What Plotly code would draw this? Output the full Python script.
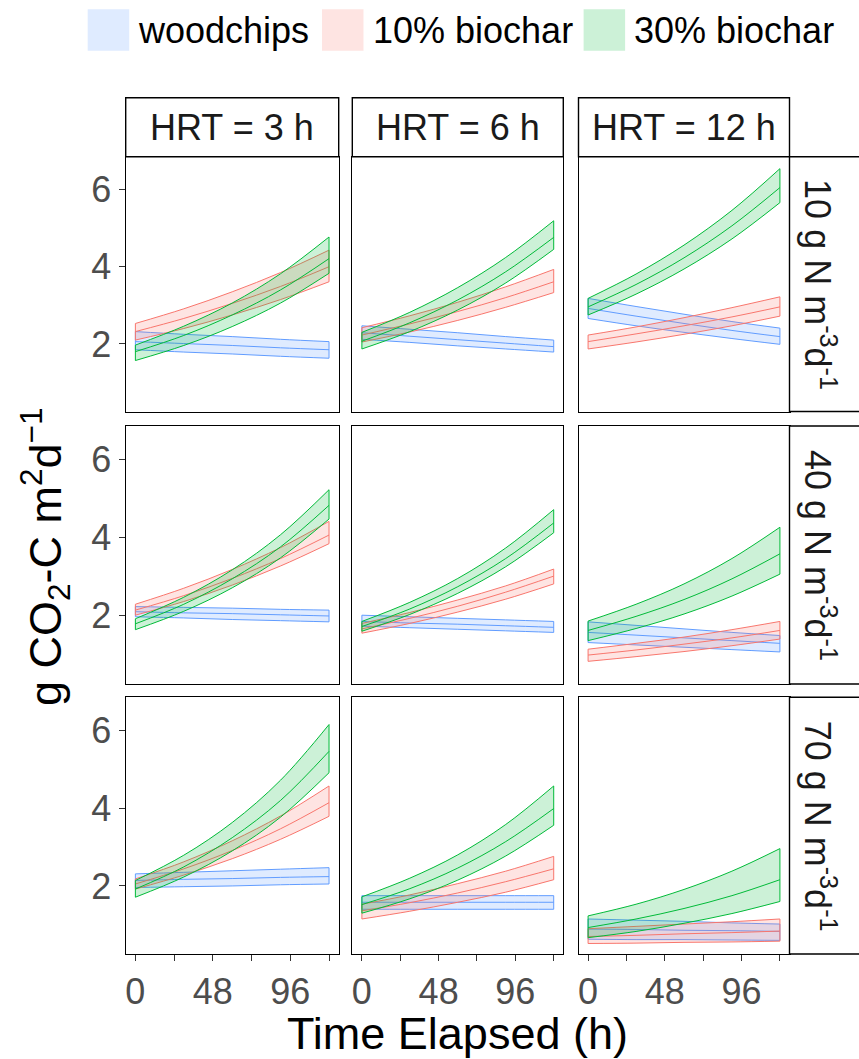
import plotly.graph_objects as go

W, H = 859, 1059

# ---------------- data ----------------
time_h = [0, 30, 60, 90, 120]
treatments = ["woodchips", "10% biochar", "30% biochar"]
hrt_labels = ["HRT = 3 h", "HRT = 6 h", "HRT = 12 h"]
load_labels = ["10 g N m<sup>-3</sup>d<sup>-1</sup>",
               "40 g N m<sup>-3</sup>d<sup>-1</sup>",
               "70 g N m<sup>-3</sup>d<sup>-1</sup>"]
x_tickvals = [0, 48, 96]
x_ticktext = ["0", "48", "96"]
x_minor_tickvals = [24, 72, 120]
y_tickvals = [2, 4, 6]
y_ticktext = ["2", "4", "6"]

# panel order: (10 g: HRT3, HRT6, HRT12), (40 g: ...), (70 g: ...)
woodchips_mean = [
    [2.06, 2.01, 1.96, 1.90, 1.85], [2.29, 2.20, 2.11, 2.02, 1.93], [2.92, 2.72, 2.53, 2.35, 2.19],
    [2.10, 2.07, 2.05, 2.02, 1.99], [1.85, 1.81, 1.78, 1.74, 1.70], [1.57, 1.50, 1.43, 1.36, 1.29],
    [2.14, 2.17, 2.19, 2.22, 2.24], [1.58, 1.58, 1.58, 1.58, 1.58], [0.89, 0.88, 0.86, 0.85, 0.83]]
woodchips_upper = [
    [2.32, 2.25, 2.19, 2.12, 2.06], [2.47, 2.38, 2.29, 2.19, 2.10], [3.18, 2.97, 2.77, 2.58, 2.41],
    [2.23, 2.21, 2.19, 2.16, 2.14], [2.01, 1.97, 1.93, 1.89, 1.85], [1.84, 1.75, 1.66, 1.57, 1.49],
    [2.31, 2.35, 2.39, 2.43, 2.47], [1.75, 1.75, 1.75, 1.75, 1.75], [1.15, 1.12, 1.09, 1.05, 1.02]]
woodchips_lower = [
    [1.85, 1.79, 1.74, 1.68, 1.63], [2.12, 2.04, 1.95, 1.87, 1.79], [2.66, 2.47, 2.30, 2.14, 1.99],
    [1.97, 1.94, 1.90, 1.87, 1.84], [1.73, 1.69, 1.65, 1.61, 1.57], [1.31, 1.25, 1.19, 1.13, 1.07],
    [1.96, 1.98, 2.00, 2.03, 2.05], [1.40, 1.40, 1.40, 1.40, 1.40], [0.63, 0.62, 0.62, 0.61, 0.60]]

biochar10_mean = [
    [2.32, 2.66, 3.05, 3.49, 4.00], [2.23, 2.52, 2.84, 3.20, 3.61], [2.06, 2.26, 2.47, 2.70, 2.96],
    [2.14, 2.51, 2.95, 3.46, 4.06], [1.66, 1.93, 2.24, 2.60, 3.01], [0.99, 1.12, 1.27, 1.43, 1.62],
    [2.05, 2.44, 2.91, 3.47, 4.14], [1.36, 1.57, 1.82, 2.11, 2.44], [0.70, 0.73, 0.77, 0.80, 0.84]]
biochar10_upper = [
    [2.53, 2.91, 3.35, 3.85, 4.43], [2.42, 2.73, 3.08, 3.48, 3.93], [2.23, 2.44, 2.68, 2.94, 3.22],
    [2.29, 2.70, 3.18, 3.74, 4.41], [1.80, 2.08, 2.40, 2.76, 3.19], [1.14, 1.29, 1.45, 1.64, 1.85],
    [2.18, 2.62, 3.16, 3.80, 4.57], [1.53, 1.77, 2.06, 2.38, 2.76], [0.90, 0.96, 1.02, 1.08, 1.15]]
biochar10_lower = [
    [2.10, 2.40, 2.75, 3.15, 3.61], [2.05, 2.31, 2.61, 2.95, 3.33], [1.87, 2.05, 2.25, 2.47, 2.72],
    [2.01, 2.36, 2.78, 3.27, 3.84], [1.55, 1.80, 2.09, 2.42, 2.81], [0.83, 0.95, 1.08, 1.23, 1.40],
    [1.92, 2.28, 2.70, 3.20, 3.79], [1.15, 1.35, 1.58, 1.84, 2.16], [0.52, 0.53, 0.55, 0.56, 0.58]]

biochar30_mean = [
    [1.80, 2.22, 2.75, 3.40, 4.21], [2.07, 2.55, 3.14, 3.87, 4.76], [2.96, 3.54, 4.23, 5.06, 6.05],
    [1.79, 2.29, 2.94, 3.76, 4.82], [1.72, 2.17, 2.74, 3.46, 4.37], [1.62, 1.98, 2.41, 2.94, 3.58],
    [1.92, 2.49, 3.24, 4.20, 5.46], [1.52, 1.93, 2.46, 3.14, 3.99], [0.93, 1.15, 1.42, 1.75, 2.16]]
biochar30_upper = [
    [1.97, 2.46, 3.06, 3.82, 4.77], [2.30, 2.82, 3.46, 4.24, 5.19], [3.18, 3.81, 4.56, 5.46, 6.54],
    [1.92, 2.47, 3.17, 4.07, 5.22], [1.85, 2.34, 2.95, 3.73, 4.71], [1.86, 2.29, 2.81, 3.46, 4.26],
    [2.14, 2.79, 3.63, 4.72, 6.15], [1.72, 2.20, 2.80, 3.58, 4.57], [1.23, 1.53, 1.91, 2.38, 2.96]]
biochar30_lower = [
    [1.57, 1.96, 2.45, 3.06, 3.83], [1.87, 2.32, 2.88, 3.58, 4.45], [2.75, 3.29, 3.94, 4.72, 5.66],
    [1.64, 2.11, 2.71, 3.48, 4.47], [1.60, 2.03, 2.57, 3.25, 4.12], [1.36, 1.67, 2.04, 2.50, 3.06],
    [1.71, 2.23, 2.90, 3.77, 4.91], [1.30, 1.67, 2.15, 2.77, 3.56], [0.67, 0.83, 1.04, 1.29, 1.60]]

means = [woodchips_mean, biochar10_mean, biochar30_mean]
uppers = [woodchips_upper, biochar10_upper, biochar30_upper]
lowers = [woodchips_lower, biochar10_lower, biochar30_lower]

# ---------------- styling ----------------
colors = ["#619CFF", "#F8766D", "#00BA38"]
fills = ["rgba(97,156,255,0.2)", "rgba(248,118,109,0.2)", "rgba(0,186,56,0.2)"]
FONT = "Liberation Sans, Arial, sans-serif"

col_left = [125.7, 352.3, 578.5]
col_right = [338.7, 563.3, 789.5]
row_top = [156.7, 426.0, 697.3]
row_bot = [411.5, 684.0, 954.0]
strip_top = 97.7
strip_right_end = 880

def px(x):
    return x / W

def py(y):
    return 1 - y / H

fig = go.Figure()
layout = dict(
    width=W, height=H, autosize=False,
    margin=dict(l=0, r=0, t=0, b=0),
    paper_bgcolor="white", plot_bgcolor="white",
    showlegend=False,
    font=dict(family=FONT),
)

for r in range(3):
    for c in range(3):
        k = r * 3 + c
        n = k + 1
        xa = "x" if n == 1 else f"x{n}"
        ya = "y" if n == 1 else f"y{n}"
        for t in range(3):
            lo = lowers[t][k]
            up = uppers[t][k]
            mn = means[t][k]
            fig.add_trace(go.Scatter(x=time_h, y=lo, mode="lines", xaxis=xa, yaxis=ya,
                                     line=dict(color=colors[t], width=1, shape="spline"),
                                     hoverinfo="skip"))
            fig.add_trace(go.Scatter(x=time_h, y=up, mode="lines", xaxis=xa, yaxis=ya,
                                     fill="tonexty", fillcolor=fills[t],
                                     line=dict(color=colors[t], width=1, shape="spline"),
                                     hoverinfo="skip"))
            fig.add_trace(go.Scatter(x=[time_h[0], time_h[0], None, time_h[-1], time_h[-1]],
                                     y=[lo[0], up[0], None, lo[-1], up[-1]],
                                     mode="lines", xaxis=xa, yaxis=ya,
                                     line=dict(color=colors[t], width=1),
                                     hoverinfo="skip"))
            fig.add_trace(go.Scatter(x=time_h, y=mn, mode="lines", xaxis=xa, yaxis=ya,
                                     line=dict(color=colors[t], width=1, shape="spline"),
                                     hoverinfo="skip"))
        xkey = "xaxis" if n == 1 else f"xaxis{n}"
        ykey = "yaxis" if n == 1 else f"yaxis{n}"
        bottom = (r == 2)
        left = (c == 0)
        xaxis = dict(
            domain=[px(col_left[c]), px(col_right[c])],
            anchor=ya, range=[-6, 126],
            tickmode="array", tickvals=x_tickvals, ticktext=x_ticktext,
            showticklabels=bottom, ticks="outside" if bottom else "",
            ticklen=6, tickwidth=1.3, tickcolor="#333333",
            tickfont=dict(size=36, color="#4D4D4D", family=FONT),
            showgrid=False, zeroline=False,
            showline=True, mirror=True, linecolor="black", linewidth=1.4,
        )
        if bottom:
            xaxis["minor"] = dict(tickmode="array", tickvals=x_minor_tickvals,
                                  ticks="outside", ticklen=6, tickwidth=1.3,
                                  tickcolor="#333333", showgrid=False)
        layout[xkey] = xaxis
        layout[ykey] = dict(
            domain=[py(row_bot[r]), py(row_top[r])],
            anchor=xa, range=[0.25, 6.85],
            tickmode="array", tickvals=y_tickvals, ticktext=y_ticktext,
            showticklabels=left, ticks="outside" if left else "",
            ticklen=6, tickwidth=1.3, tickcolor="#333333",
            tickfont=dict(size=36, color="#4D4D4D", family=FONT),
            showgrid=False, zeroline=False,
            showline=True, mirror=True, linecolor="black", linewidth=1.4,
        )

shapes = []
annotations = []

# top strips
for c in range(3):
    shapes.append(dict(type="rect", xref="paper", yref="paper",
                       x0=px(col_left[c]), x1=px(col_right[c]),
                       y0=py(row_top[0]), y1=py(strip_top),
                       line=dict(color="black", width=1.4), fillcolor="white", layer="above"))
    annotations.append(dict(xref="paper", yref="paper",
                            x=px((col_left[c] + col_right[c]) / 2), y=py((strip_top + row_top[0]) / 2),
                            text=hrt_labels[c], showarrow=False,
                            xanchor="center", yanchor="middle",
                            font=dict(size=36, color="#1A1A1A", family=FONT)))
# right strips
for r in range(3):
    shapes.append(dict(type="rect", xref="paper", yref="paper",
                       x0=px(col_right[2]), x1=px(strip_right_end),
                       y0=py(row_bot[r]), y1=py(row_top[r]),
                       line=dict(color="black", width=1.4), fillcolor="white", layer="above"))
    annotations.append(dict(xref="paper", yref="paper",
                            x=px(820), y=py((row_top[r] + row_bot[r]) / 2),
                            text=load_labels[r], showarrow=False, textangle=90,
                            xanchor="center", yanchor="middle",
                            font=dict(size=36, color="#1A1A1A", family=FONT)))

# legend (drawn manually)
key_x0 = [87.7, 322.0, 583.6]
key_size = 41.5
key_top = 9.3
for t in range(3):
    shapes.append(dict(type="rect", xref="paper", yref="paper",
                       x0=px(key_x0[t]), x1=px(key_x0[t] + key_size),
                       y0=py(key_top + key_size), y1=py(key_top),
                       line=dict(width=0), fillcolor=fills[t]))
    annotations.append(dict(xref="paper", yref="paper",
                            x=px(key_x0[t] + key_size + 7), y=py(key_top + key_size / 2),
                            text=treatments[t], showarrow=False,
                            xanchor="left", yanchor="middle",
                            font=dict(size=36, color="black", family=FONT)))

# axis titles
annotations.append(dict(xref="paper", yref="paper",
                        x=px((col_left[0] + col_right[2]) / 2), y=py(1033),
                        text="Time Elapsed (h)", showarrow=False,
                        xanchor="center", yanchor="middle",
                        font=dict(size=45, color="black", family=FONT)))
annotations.append(dict(xref="paper", yref="paper",
                        x=px(45), y=py(557),
                        text="g CO<sub>2</sub>-C m<sup>2</sup>d<sup>\u22121</sup>",
                        showarrow=False, textangle=-90,
                        xanchor="center", yanchor="middle",
                        font=dict(size=45, color="black", family=FONT)))

layout["shapes"] = shapes
layout["annotations"] = annotations
fig.update_layout(**layout)

fig.write_html("out.html")
